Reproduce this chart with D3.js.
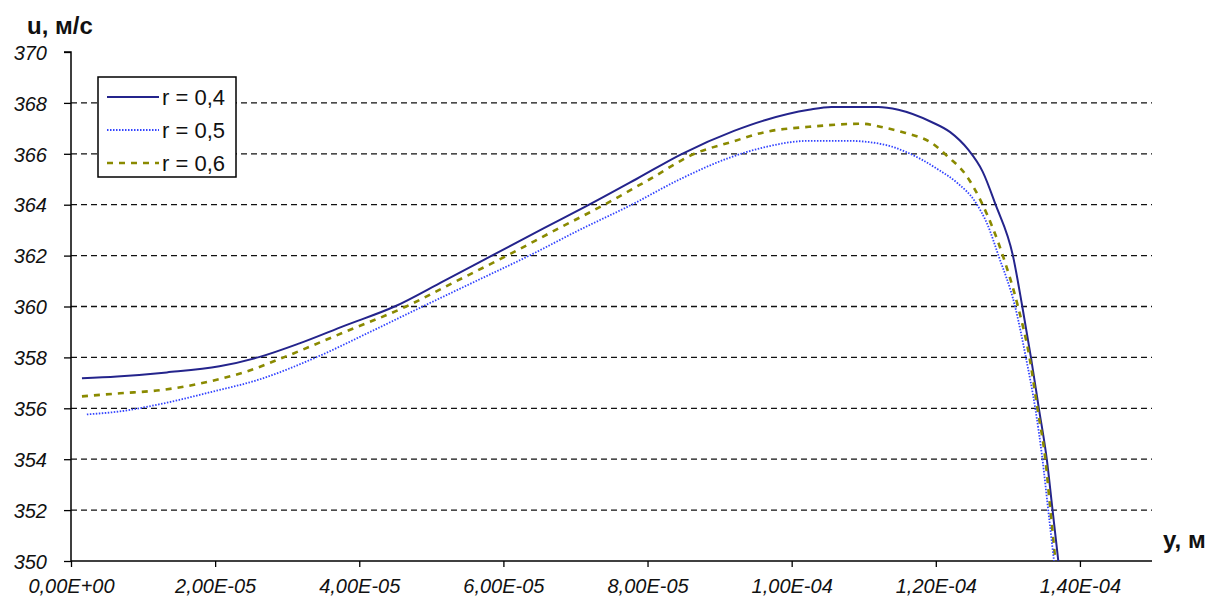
<!DOCTYPE html>
<html><head><meta charset="utf-8">
<script src="https://cdn.jsdelivr.net/npm/d3@7"></script>
<style>body{margin:0;background:#fff}svg{display:block}</style>
</head><body>
<svg id="c" width="1213" height="605"></svg>
<script>
// Data (y in metres, u in m/s)
const seriesNames = ["r = 0,4", "r = 0,5", "r = 0,6"];
const x04 = [0.152e-5,0.64e-5,1.33e-5,2.06e-5,2.62e-5,3.17e-5,3.80e-5,4.49e-5,5.17e-5,5.84e-5,6.51e-5,7.19e-5,7.84e-5,8.48e-5,9.20e-5,9.64e-5,10.24e-5,10.55e-5,11.20e-5,11.48e-5,11.94e-5,12.20e-5,12.45e-5,12.65e-5,12.83e-5,13.07e-5,13.20e-5,13.32e-5,13.43e-5,13.54e-5,13.62e-5,13.70e-5];
const u04 = [357.18,357.25,357.41,357.65,358.02,358.55,359.25,360.0,361.0,362.0,363.0,364.0,365.0,366.0,366.9,367.33,367.73,367.84,367.84,367.73,367.25,366.85,366.16,365.3,364.0,362.0,360.0,358.0,356.0,354.0,352.0,350.0];
const x05 = [0.22e-5,0.68e-5,1.23e-5,1.93e-5,2.62e-5,3.40e-5,4.15e-5,4.88e-5,5.62e-5,6.36e-5,7.05e-5,7.78e-5,8.45e-5,9.17e-5,9.64e-5,10.24e-5,10.79e-5,11.30e-5,11.58e-5,12.04e-5,12.30e-5,12.55e-5,12.72e-5,12.87e-5,13.10e-5,13.25e-5,13.38e-5,13.48e-5,13.56e-5,13.64e-5];
const u05 = [355.76,355.88,356.16,356.63,357.14,358.0,359.0,360.0,361.0,362.0,363.0,364.0,365.0,365.88,366.27,366.51,366.51,366.35,366.08,365.37,364.85,364.1,363.2,362.0,360.0,358.0,356.0,354.0,352.0,350.0];
const x06 = [0.152e-5,0.68e-5,1.23e-5,1.93e-5,2.44e-5,2.95e-5,3.80e-5,4.65e-5,5.35e-5,6.05e-5,6.72e-5,7.40e-5,8.03e-5,8.65e-5,9.17e-5,9.64e-5,10.24e-5,10.97e-5,11.30e-5,11.58e-5,11.94e-5,12.17e-5,12.41e-5,12.65e-5,12.93e-5,13.14e-5,13.30e-5,13.41e-5,13.52e-5,13.59e-5,13.66e-5];
const u06 = [356.47,356.59,356.71,357.06,357.45,358.0,359.0,360.0,361.0,362.0,363.0,364.0,365.0,366.0,366.47,366.86,367.06,367.18,367.02,366.82,366.43,365.88,365.2,364.0,362.0,360.0,358.0,356.0,354.0,352.0,350.0];
const xTicks = [0,2e-5,4e-5,6e-5,8e-5,1e-4,1.2e-4,1.4e-4];
const xTickLabels = ["0,00E+00","2,00E-05","4,00E-05","6,00E-05","8,00E-05","1,00E-04","1,20E-04","1,40E-04"];
const yTicks = [350,352,354,356,358,360,362,364,366,368,370];

const svg = d3.select("#c");
const L = 71, R = 1152, T = 52, B = 561;
const x = d3.scaleLinear().domain([0, 1.5e-4]).range([L, R]);
const y = d3.scaleLinear().domain([350, 370]).range([B, T]);
const font = "'Liberation Sans', Arial, sans-serif";

// gridlines
svg.append("g").selectAll("line").data(yTicks.filter(v => v > 350 && v < 370)).join("line")
  .attr("x1", L).attr("x2", R).attr("y1", d => y(d)).attr("y2", d => y(d))
  .attr("stroke", "#111").attr("stroke-width", 1.3).attr("stroke-dasharray", "6,4");

// axes
const yAxis = d3.axisLeft(y).tickValues(yTicks).tickSize(7).tickFormat(d3.format("d"));
const gy = svg.append("g").attr("transform", `translate(${L},0)`).call(yAxis);
gy.select(".domain").attr("stroke", "#000").attr("stroke-width", 1.5).attr("d", `M-7,${T}H0V${B}`);
gy.selectAll(".tick line").attr("stroke", "#000").attr("stroke-width", 1.3);
gy.selectAll(".tick text").attr("x", -24).attr("dy", "0.36em")
  .style("font-family", font).style("font-size", "20px").style("font-style", "italic").attr("fill", "#111");

const xAxis = d3.axisBottom(x).tickValues(xTicks).tickSize(6).tickFormat((d, i) => xTickLabels[i]);
const gx = svg.append("g").attr("transform", `translate(0,${B})`).call(xAxis);
gx.select(".domain").attr("stroke", "#000").attr("stroke-width", 1.5).attr("d", `M${L},0H${R}`);
gx.selectAll(".tick line").attr("stroke", "#000").attr("stroke-width", 1.3);
gx.selectAll(".tick text").attr("y", 18).attr("dy", "0.71em")
  .style("font-family", font).style("font-size", "20px").style("font-style", "italic").attr("fill", "#111");

// series
const series = [
  {name: seriesNames[0], xs: x04, us: u04, color: "#24248c", w: 2, dash: null},
  {name: seriesNames[1], xs: x05, us: u05, color: "#3344ff", w: 1.8, dash: "1.5,1.5"},
  {name: seriesNames[2], xs: x06, us: u06, color: "#8a8a00", w: 2.6, dash: "6,6"}
];
const line = d3.line().x(d => x(d[0])).y(d => y(d[1])).curve(d3.curveMonotoneX);
[series[0], series[2], series[1]].forEach(s => {
  svg.append("path").datum(s.xs.map((v, i) => [v, s.us[i]]))
    .attr("d", line).attr("fill", "none").attr("stroke", s.color)
    .attr("stroke-width", s.w).attr("stroke-dasharray", s.dash);
});

// legend
const lg = svg.append("g");
lg.append("rect").attr("x", 98).attr("y", 77).attr("width", 138).attr("height", 100)
  .attr("fill", "#fff").attr("stroke", "#000").attr("stroke-width", 1.5);
series.forEach((s, i) => {
  const yy = 97 + i * 33;
  lg.append("line").attr("x1", 107).attr("x2", 159).attr("y1", yy).attr("y2", yy)
    .attr("stroke", s.color).attr("stroke-width", s.w).attr("stroke-dasharray", s.dash);
  lg.append("text").attr("x", 162).attr("y", yy).attr("dy", "0.36em").text(s.name)
    .style("font-family", font).style("font-size", "22px").attr("fill", "#111");
});

// axis titles
svg.append("text").attr("x", 27).attr("y", 34).text("u, м/с")
  .style("font-family", font).style("font-size", "24px").style("font-weight", "bold").attr("fill", "#111");
svg.append("text").attr("x", 1163).attr("y", 548).text("y, м")
  .style("font-family", font).style("font-size", "24px").style("font-weight", "bold").attr("fill", "#111");
</script>
</body></html>
